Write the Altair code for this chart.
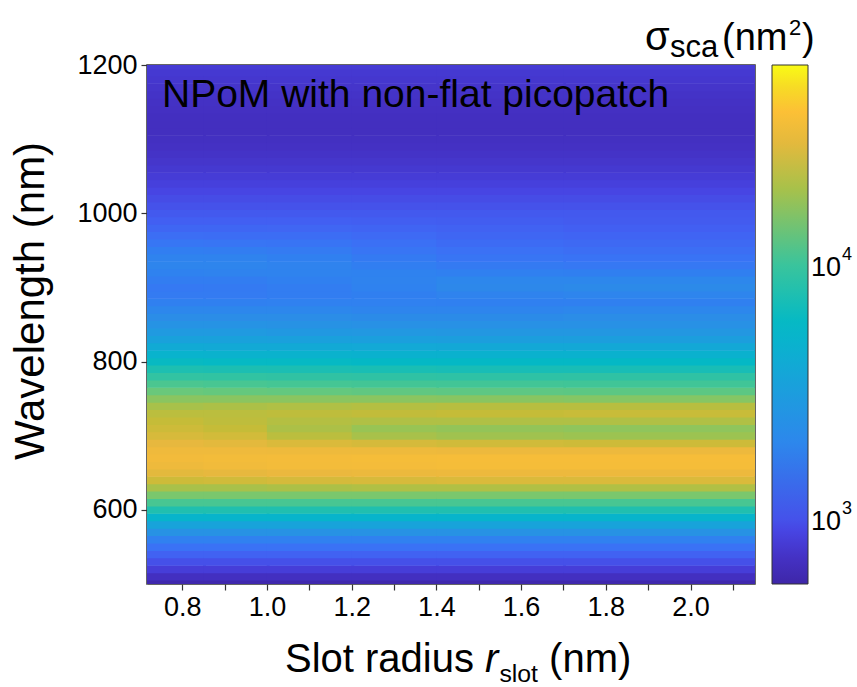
import altair as alt
import pandas as pd
import math

# ---------------- data ----------------
wavelengths = list(range(500, 1201, 10))                  # nm, 71 rows
radius_lo = [0.717, 0.85, 1.0, 1.2, 1.4, 1.7]             # slot radius column edges (nm)
radius_hi = [0.85, 1.0, 1.2, 1.4, 1.7, 2.152]

# sigma_sca (nm^2): 500-620 nm (same for all radii)
sigma_low = [580, 680, 820, 980, 1160, 1420, 1820, 2450, 3500, 5200, 7800, 11000, 15000]
# 630-990 nm, one list per radius column
sigma_mid_c1 = [20000, 25500, 30000, 33500, 35000, 34000, 31000, 27500, 25500, 24000, 22500, 20000, 16500,
                13500, 11200, 9300, 7600, 6100, 5000, 4100, 3400, 2900, 2500, 2200, 2000, 1800, 1650, 1600,
                1700, 1850, 1950, 1900, 1750, 1520, 1350, 1220, 1120]
sigma_mid_c2 = [20000, 26000, 31000, 34500, 35500, 34000, 30000, 26500, 24000, 23000, 22500, 20500, 16500,
                13200, 11000, 9200, 7500, 6000, 4900, 4000, 3400, 2900, 2500, 2200, 2000, 1800, 1650, 1620,
                1720, 1880, 1950, 1880, 1720, 1500, 1340, 1220, 1120]
sigma_mid_c3 = [20500, 27000, 32000, 35500, 36000, 33500, 28000, 22500, 20500, 21500, 23000, 21000, 16500,
                13000, 10800, 9100, 7400, 6000, 4900, 4000, 3300, 2800, 2450, 2200, 2000, 1820, 1700, 1700,
                1800, 1900, 1900, 1800, 1650, 1480, 1330, 1210, 1120]
sigma_mid_c4 = [21000, 27500, 32500, 36000, 36500, 33500, 27000, 20000, 18000, 21000, 23500, 21500, 16500,
                12800, 10700, 9000, 7300, 5900, 4800, 3950, 3250, 2750, 2400, 2150, 1950, 1820, 1780, 1850,
                1900, 1850, 1750, 1620, 1500, 1380, 1280, 1190, 1110]
sigma_mid_c5 = [21000, 28000, 33000, 36500, 37000, 33000, 26000, 19000, 17500, 21000, 24000, 22000, 16300,
                12600, 10600, 8900, 7200, 5900, 4800, 3900, 3200, 2700, 2400, 2150, 1950, 1800, 1900, 2050,
                2000, 1800, 1620, 1500, 1400, 1300, 1220, 1150, 1100]
sigma_mid_c6 = [21000, 28000, 33000, 36500, 37000, 33000, 25500, 18500, 17000, 21000, 24500, 22000, 16000,
                12500, 10500, 9000, 7200, 5900, 4800, 3900, 3200, 2700, 2400, 2200, 2000, 1800, 1950, 2100,
                2000, 1780, 1580, 1450, 1350, 1260, 1180, 1120, 1080]
# 1000-1200 nm (same for all radii)
sigma_high = [1060, 1000, 950, 900, 850, 810, 775, 745, 720, 700, 685, 675, 675, 680, 690, 705, 720, 740,
              760, 780, 800]

x_tick_values = [0.8, 0.9, 1.0, 1.1, 1.2, 1.3, 1.4, 1.5, 1.6, 1.7, 1.8, 1.9, 2.0, 2.1]
y_tick_values = [600, 800, 1000, 1200]
cb_tick_values = [600, 700, 800, 900, 1000, 2000, 3000, 4000, 5000, 6000, 7000, 8000, 9000,
                  10000, 20000, 30000, 40000, 50000, 60000]
cb_label_values = [1000, 10000]
cb_label_exps = ["3", "4"]
cb_min, cb_max = 556, 61100

annotation = "NPoM with non-flat picopatch"

# ---------------- table ----------------
mids = [sigma_mid_c1, sigma_mid_c2, sigma_mid_c3, sigma_mid_c4, sigma_mid_c5, sigma_mid_c6]
rows = []
for lo, hi, mid in zip(radius_lo, radius_hi, mids):
    col = sigma_low + mid + sigma_high
    for wl, s in zip(wavelengths, col):
        rows.append({"r_lo": lo, "r_hi": hi, "wl": wl, "sigma": s})
df = pd.DataFrame(rows)

# parula-like colour map, stops given as fractions of the log colour range
stop_frac = [0.0, 0.05, 0.10, 0.15, 0.20, 0.25, 0.30, 0.38, 0.45, 0.50, 0.56, 0.62, 0.68, 0.74,
             0.80, 0.86, 0.91, 0.96, 1.0]
stop_col = ["#3e26a8", "#4431c4", "#4744e2", "#4260f2", "#3a72f5", "#3080f0", "#2a8fe6", "#1aa0dc",
            "#0cb0d0", "#03b8c6", "#1fbfb0", "#3cc59a", "#6ac87a", "#98c454", "#c4bc38", "#eab83e",
            "#fcc036", "#f7dc24", "#f9fb14"]
lmin, lmax = math.log10(cb_min), math.log10(cb_max)
stop_dom = [10 ** (lmin + f * (lmax - lmin)) for f in stop_frac]
stop_dom[0], stop_dom[-1] = cb_min, cb_max

color_scale = alt.Scale(type="log", domain=stop_dom, range=stop_col, interpolate="rgb")

FONT = "Liberation Sans, Arial, Helvetica, sans-serif"
W, H = 608, 519

heat = alt.Chart(df).transform_calculate(
    wl_lo="max(datum.wl - 5.4, 500)", wl_hi="min(datum.wl + 5.4, 1200)",
    r_hi2="min(datum.r_hi + 0.006, 2.152)"
).mark_rect().encode(
    x=alt.X("r_lo:Q", scale=alt.Scale(domain=[0.717, 2.152], nice=False, zero=False),
            axis=alt.Axis(values=x_tick_values, title=None, grid=False, domain=False,
                          labelExpr="abs(round(datum.value*10) % 2) == 0 ? format(datum.value, '.1f') : ''",
                          tickSize=6, labelPadding=4)),
    x2="r_hi2:Q",
    y=alt.Y("wl_lo:Q", scale=alt.Scale(domain=[500, 1200], nice=False, zero=False),
            axis=alt.Axis(values=y_tick_values, title=None, grid=False, domain=True, format="d",
                          tickSize=6, labelPadding=4)),
    y2="wl_hi:Q",
    color=alt.Color("sigma:Q", scale=color_scale, title=None,
                    legend=alt.Legend(type="gradient", orient="none", legendX=625, legendY=0,
                                      direction="vertical",
                                      gradientLength=H, gradientThickness=36,
                                      gradientStrokeColor="#333", gradientStrokeWidth=1,
                                      labelExpr="''", labelOpacity=0)),
)

cb_scale = alt.Scale(type="log", domain=[cb_min, cb_max], nice=False)

cb_ticks = alt.Chart(pd.DataFrame({"v": cb_tick_values})).mark_tick(
    orient="horizontal", size=5, thickness=1, color="#333"
).encode(x=alt.value(658.5), y=alt.Y("v:Q", scale=cb_scale, axis=None))

lab_df = pd.DataFrame({"v": cb_label_values, "e": cb_label_exps, "b": ["10", "10"]})
cb_lab = alt.Chart(lab_df).mark_text(align="left", baseline="middle", fontSize=27, font=FONT,
                                     color="black", dy=3).encode(
    x=alt.value(664), y=alt.Y("v:Q", scale=cb_scale, axis=None), text="b:N")
cb_exp = alt.Chart(lab_df).mark_text(align="left", baseline="middle", fontSize=18, font=FONT,
                                     color="black", dy=-10).encode(
    x=alt.value(695), y=alt.Y("v:Q", scale=cb_scale, axis=None), text="e:N")
cb_layer = alt.layer(cb_ticks, cb_lab, cb_exp)


def txt(s, x, y, size, **kw):
    return alt.Chart(pd.DataFrame({"t": [s]})).mark_text(
        fontSize=size, font=FONT, color="black", **kw
    ).encode(x=alt.value(x), y=alt.value(y), text="t:N")


F = 40
x0 = 138
p2 = x0 + 5.002 * F
p3 = p2 + 0.333 * F + 1
p4 = p3 + 1.556 * 0.62 * F + 0.278 * F
base = 607
texts = [
    txt(annotation, 15, 42, 39, align="left", baseline="alphabetic"),
    txt("Wavelength (nm)", -103, 236, 42, align="center", baseline="alphabetic", angle=270),
    txt("Slot radius", x0, base, F, align="left", baseline="alphabetic"),
    txt("r", p2, base, F, align="left", baseline="alphabetic", fontStyle="italic"),
    txt("slot", p3, base + 10, 0.62 * F, align="left", baseline="alphabetic"),
    txt("(nm)", p4, base, F, align="left", baseline="alphabetic"),
    txt("σ", 498, -15, 40, align="left", baseline="alphabetic"),
    txt("sca", 523, -8, 31, align="left", baseline="alphabetic"),
    txt("(nm", 575, -15, 38, align="left", baseline="alphabetic"),
    txt("2", 642, -30, 22, align="left", baseline="alphabetic"),
    txt(")", 655, -15, 38, align="left", baseline="alphabetic"),
]

chart = alt.layer(heat, cb_layer, *texts).resolve_scale(
    y="independent"
).properties(
    width=W, height=H,
    autosize=alt.AutoSizeParams(type="none"),
    padding={"left": 147, "top": 65, "right": 102, "bottom": 103},
).configure_view(stroke="#333", strokeWidth=1.5).configure_axis(
    labelFont=FONT, labelFontSize=27, labelColor="black", tickColor="#333",
    domainColor="#888", tickWidth=1.2
)

chart.save("out.html", embed_options={"renderer": "svg", "actions": False})
